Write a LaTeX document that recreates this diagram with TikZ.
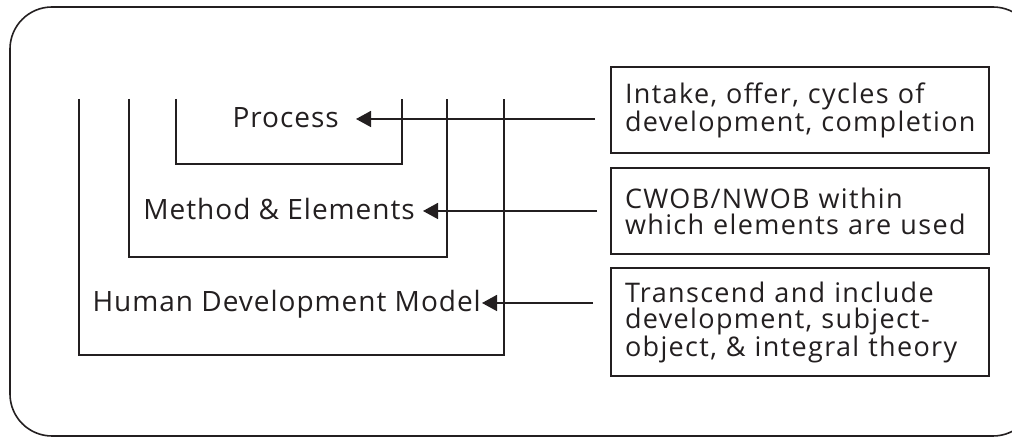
\documentclass[tikz,border=0pt]{standalone}
\usepackage{fontspec}
\setmainfont{Open Sans}
\newfontfamily\lblfont{Open Sans}[LetterSpace=3.5]
\newfontfamily\boxfont{Open Sans}[LetterSpace=5]
\usetikzlibrary{arrows.meta}
\definecolor{ink}{HTML}{231F20}
\begin{document}
\begin{tikzpicture}[x=1pt,y=1pt,
  ink/.style={draw=ink,line width=1.6pt},
  lbl/.style={font=\lblfont\fontsize{28}{26}\selectfont,text=ink,anchor=base east,inner ysep=0pt},
  infobox/.style={draw=ink,line width=2pt,minimum width=374pt,text width=350pt,inner xsep=14pt,align=left,font=\boxfont\fontsize{27}{26}\selectfont,text=ink},
  arr/.style={draw=ink,line width=1.6pt,-{Triangle[length=15pt,width=16pt]}}]
\useasboundingbox (0,0) rectangle (1012,438);
\begin{scope}
\clip (0,0) rectangle (1012,438);
\draw[ink,rounded corners=42pt] (10,2) rectangle (1035,431);
\end{scope}
% nested U shapes
\draw[ink] (79,339) -- (79,83) -- (504,83) -- (504,339);
\draw[ink] (129,339) -- (129,181) -- (447,181) -- (447,339);
\draw[ink] (176,339) -- (176,274) -- (402,274) -- (402,339);
% labels
\node[lbl,inner xsep=17pt] (proc) at (356,310) {Process};
\node[lbl,inner xsep=8pt] (meth) at (423,218) {Method \& Elements};
\node[lbl,inner xsep=1pt] (hdm) at (482,126) {Human Development Model};
% boxes
\node[infobox,minimum height=86pt] (b1) at (800,328) {Intake, offer, cycles of\\development, completion};
\node[infobox,minimum height=86pt] (b2) at (800,227) {CWOB/NWOB within\\which elements are used};
\node[infobox,minimum height=108pt] (b3) at (800,116) {Transcend and include\\development, subject-\\object, \& integral theory};
% arrows
\draw[arr] ([xshift=-15pt]b1.west |- 0,319) coordinate (s1) -- (proc.east |- s1);
\draw[arr] ([xshift=-13pt]b2.west |- 0,227) coordinate (s2) -- (meth.east |- s2);
\draw[arr] ([xshift=-17pt]b3.west |- 0,135) coordinate (s3) -- (hdm.east |- s3);
\end{tikzpicture}
\end{document}
